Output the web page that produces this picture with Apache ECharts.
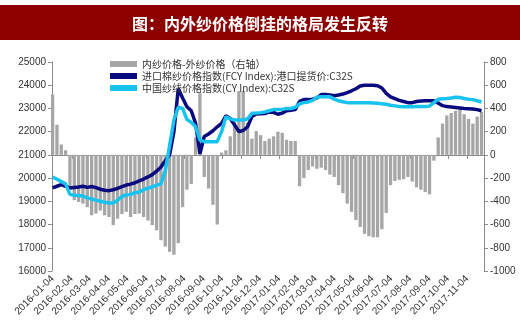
<!DOCTYPE html>
<html>
<head>
<meta charset="utf-8">
<script src="https://cdn.jsdelivr.net/npm/echarts@6/dist/echarts.min.js"></script>
<style>
html,body{margin:0;padding:0;background:#fff;}
#c{width:520px;height:332px;}
</style>
</head>
<body>
<div id="c"></div>
<script>
// ---- data (weekly, starting 2016-01-04) ----
const firstWeek = '2016-01-04';
const seriesNames = ['内纱价格-外纱价格（右轴）', '进口棉纱价格指数(FCY Index):港口提货价:C32S', '中国纱线价格指数(CY Index):C32S'];
const xTickLabels = ['2016-01-04','2016-02-04','2016-03-04','2016-04-04','2016-05-04','2016-06-04','2016-07-04','2016-08-04','2016-09-04','2016-10-04','2016-11-04','2016-12-04','2017-01-04','2017-02-04','2017-03-04','2017-04-04','2017-05-04','2017-06-04','2017-07-04','2017-08-04','2017-09-04','2017-10-04','2017-11-04'];
const leftTicks = [16000, 25000, 1000];
const rightTicks = [-1000, 800, 200];

const spread = [520,260,90,40,-280,-390,-405,-420,-450,-520,-505,-480,-520,-535,-605,-550,-510,-490,-535,-510,
  -505,-535,-565,-605,-650,-735,-790,-835,-860,-760,-450,-300,-250,150,530,-190,-290,-430,-600,20,
  40,160,280,550,550,280,140,205,170,120,140,160,200,190,130,120,120,-270,-200,-130,
  -100,-120,-110,-130,-170,-190,-260,-330,-420,-490,-560,-620,-680,-700,-710,-710,-640,-500,-260,-225,
  -215,-210,-190,-230,-280,-300,-320,-340,-50,150,270,340,360,380,390,350,310,270,330,370];

const fcy = [19580,19650,19720,19650,19570,19600,19620,19650,19600,19640,19590,19520,19480,19460,19500,19560,19630,19700,19740,19800,
  19880,19960,20050,20150,20300,20480,20750,21000,22000,23850,23450,23070,22900,22360,21050,21790,21900,22040,22210,22360,
  22680,22570,22290,22000,22050,22210,22650,22760,22770,22780,22850,22830,22750,22800,22900,22920,22950,23300,23380,23380,
  23400,23450,23600,23600,23580,23550,23580,23620,23680,23760,23850,23970,24000,24000,24000,23980,23880,23650,23500,23420,
  23350,23300,23250,23250,23300,23320,23330,23330,23330,23230,23120,23080,23060,23040,23020,23000,22990,22980,22950,22900];

const cy = [20050,19950,19850,19750,19300,19260,19250,19230,19150,19100,19050,19000,18960,18930,18930,19050,19200,19280,19300,19370,
  19400,19500,19570,19620,19700,19750,20300,21400,22500,23050,23000,22530,22400,22210,21640,21570,21570,21570,21570,22000,
  22640,22550,22500,22500,22500,22550,22790,22800,22820,22850,22900,22950,22950,22960,23000,23000,23050,23200,23250,23280,
  23350,23480,23500,23500,23500,23400,23330,23290,23250,23250,23250,23240,23240,23240,23230,23220,23200,23180,23140,23110,
  23080,23070,23070,23070,23080,23080,23080,23100,23250,23400,23420,23430,23450,23480,23470,23430,23400,23380,23330,23280];

// ---- build ----
function parseDay(s){ const p = s.split('-').map(Number); return Date.UTC(p[0], p[1]-1, p[2]) / 86400000; } // day number
const d0 = parseDay(firstWeek);
const dates = spread.map((_, i) => d0 + i * 7);
const tickValues = xTickLabels.map(parseDay);
const pair = arr => arr.map((v, i) => [dates[i], v]);

const chart = echarts.init(document.getElementById('c'), null, {renderer: 'canvas'});
const axisLineStyle = {color: '#8c8c8c', width: 1};
const labelFont = {fontFamily: 'Liberation Sans, Arial, sans-serif', fontSize: 10, color: '#333333'};
const plain = v => String(v);

chart.setOption({
  backgroundColor: '#ffffff',
  animation: false,
  graphic: [{
    type: 'rect', left: 0, top: 5, shape: {width: 520, height: 35},
    style: {fill: '#8c0000'}, z: 0
  }],
  title: {
    text: '图：内外纱价格倒挂的格局发生反转',
    left: 'center', top: 11,
    textStyle: {color: '#ffffff', fontSize: 16, fontWeight: 'bold', fontFamily: 'Noto Sans CJK SC'}
  },
  legend: {
    orient: 'vertical', left: 105, top: 54,
    itemWidth: 27, itemHeight: 6, itemGap: 2,
    textStyle: {fontFamily: 'Noto Sans CJK SC', fontSize: 10, color: '#333'},
    data: [
      {name: seriesNames[0], icon: 'rect'},
      {name: seriesNames[1], icon: 'rect'},
      {name: seriesNames[2], icon: 'rect'}
    ]
  },
  grid: {left: 52, right: 36, top: 62, bottom: 61, containLabel: false},
  xAxis: {
    type: 'value',
    min: parseDay('2016-01-03'),
    max: parseDay('2017-12-01'),
    axisLine: {lineStyle: axisLineStyle},
    axisTick: {show: true, customValues: tickValues, length: 4, lineStyle: axisLineStyle},
    axisLabel: Object.assign({}, labelFont, {
      customValues: tickValues, rotate: 45, margin: 6, hideOverlap: false,
      formatter: v => { const i = tickValues.indexOf(v); return i >= 0 ? xTickLabels[i] : ''; }
    }),
    splitLine: {show: false}
  },
  yAxis: [{
    type: 'value', min: leftTicks[0], max: leftTicks[1], interval: leftTicks[2],
    axisLine: {show: true, lineStyle: axisLineStyle},
    axisTick: {show: true, length: 4, lineStyle: axisLineStyle},
    axisLabel: Object.assign({}, labelFont, {margin: 6, formatter: plain}),
    splitLine: {show: false}
  }, {
    type: 'value', min: rightTicks[0], max: rightTicks[1], interval: rightTicks[2],
    position: 'right',
    axisLine: {show: true, lineStyle: axisLineStyle},
    axisTick: {show: true, length: 4, lineStyle: axisLineStyle},
    axisLabel: Object.assign({}, labelFont, {margin: 6, formatter: plain}),
    splitLine: {show: false}
  }],
  series: [{
    name: seriesNames[0], type: 'bar', yAxisIndex: 1,
    data: pair(spread), barWidth: 3.3,
    itemStyle: {color: '#a6a6a6'}
  }, {
    name: seriesNames[1], type: 'line', yAxisIndex: 0,
    data: pair(fcy), showSymbol: false, symbol: 'none',
    lineStyle: {color: '#0a0a80', width: 3.5}, itemStyle: {color: '#0a0a80'}
  }, {
    name: seriesNames[2], type: 'line', yAxisIndex: 0,
    data: pair(cy), showSymbol: false, symbol: 'none',
    lineStyle: {color: '#19c3f0', width: 3.5}, itemStyle: {color: '#19c3f0'}
  }]
});
</script>
</body>
</html>
